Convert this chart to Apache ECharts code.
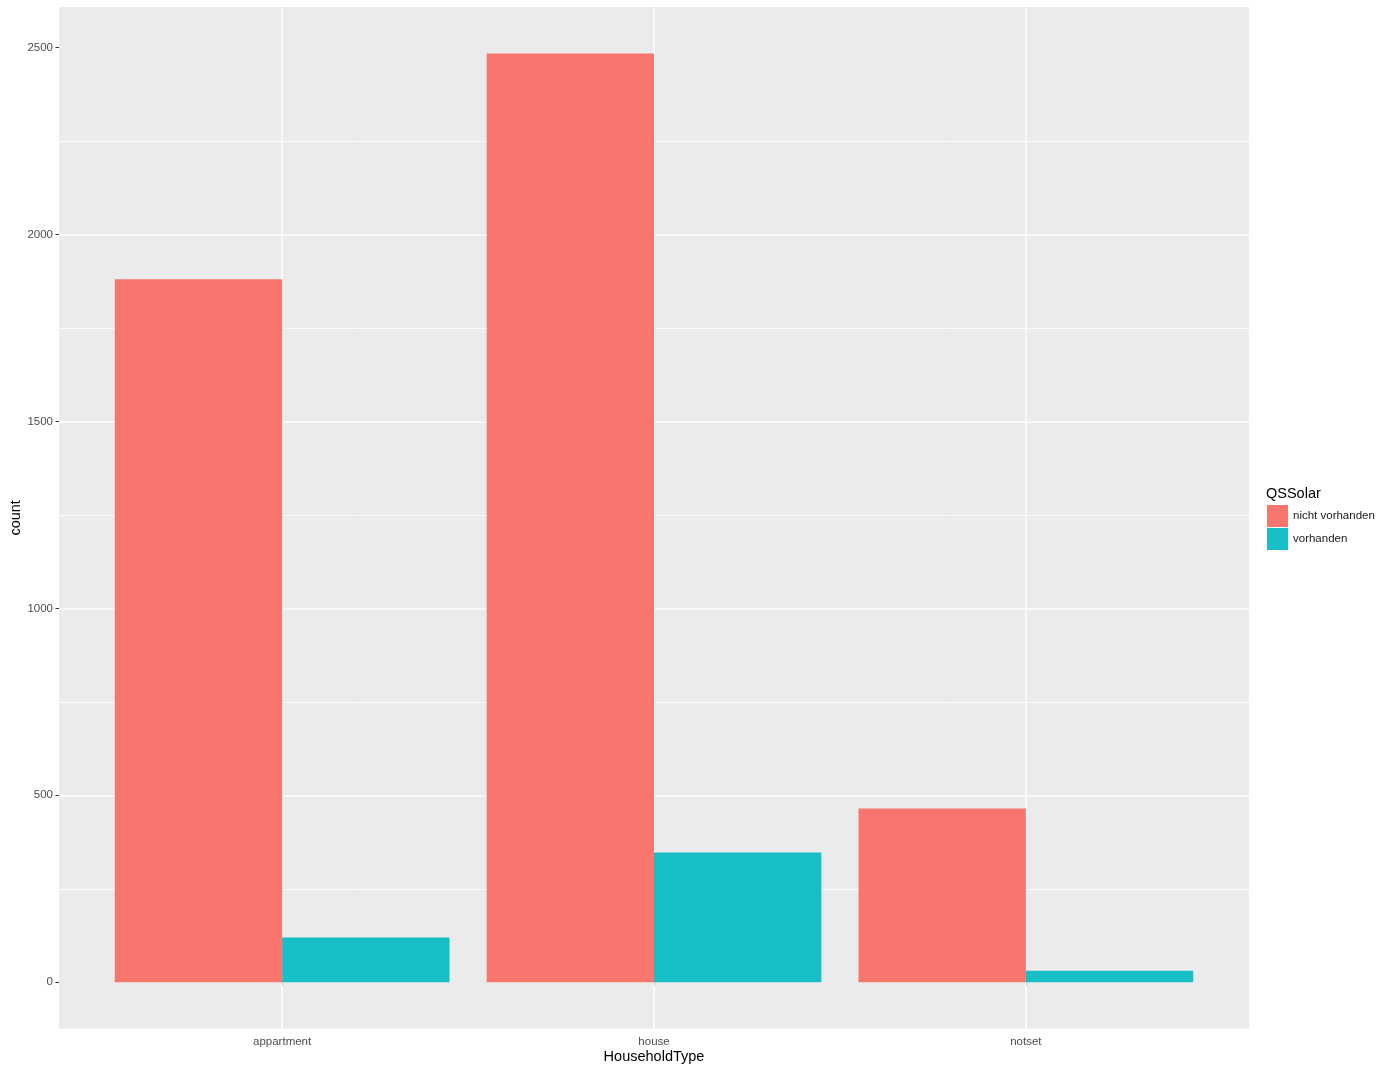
<!DOCTYPE html>
<html>
<head>
<meta charset="utf-8">
<script src="https://cdn.jsdelivr.net/npm/echarts@6/dist/echarts.min.js"></script>
<style>
html,body{margin:0;padding:0;background:#fff;}
#chart{width:1400px;height:1071px;}
</style>
</head>
<body>
<div id="chart"></div>
<script>
// ---- data ----
const categories = ['appartment', 'house', 'notset'];
const seriesNames = ['nicht vorhanden', 'vorhanden'];
const nichtVorhanden = [1880, 2484, 465];
const vorhanden = [120, 347, 31];
const yTicks = [0, 500, 1000, 1500, 2000, 2500];
const xPositions = [1, 2, 3];
const colors = ['#F8766D', '#17BEC5'];

// ggplot-like expansion of the scales
const allVals = nichtVorhanden.concat(vorhanden);
const dMax = Math.max.apply(null, allVals);
const expand = 0.05 * dMax;
const yMin = -expand, yMax = dMax + expand;
const xMin = 1 - 0.6, xMax = categories.length + 0.6;

const font = '"Liberation Sans", Arial, Helvetica, sans-serif';
const chart = echarts.init(document.getElementById('chart'), null, {renderer: 'canvas'});

const toPairs = arr => arr.map((v, i) => [xPositions[i], v]);

chart.setOption({
  animation: false,
  backgroundColor: '#ffffff',
  title: {
    text: 'QSSolar', left: 1266, top: 486, padding: 0,
    textStyle: {fontFamily: font, fontSize: 14.5, fontWeight: 'normal', color: '#000'}
  },
  legend: {
    orient: 'vertical', left: 1267, top: 505, padding: 0,
    itemWidth: 21, itemHeight: 22, itemGap: 1, icon: 'rect',
    data: seriesNames,
    textStyle: {fontFamily: font, fontSize: 11.5, color: '#1a1a1a'},
    selectedMode: false
  },
  grid: {left: 59, top: 7, right: 151, bottom: 42.3, show: true,
         backgroundColor: '#EBEBEB', borderWidth: 0, containLabel: false, outerBoundsMode: 'none'},
  xAxis: {
    type: 'value', min: xMin, max: xMax, splitNumber: 3, minInterval: 1, maxInterval: 1,
    name: 'HouseholdType', nameLocation: 'middle', nameGap: 21, nameMoveOverlap: false,
    nameTextStyle: {fontFamily: font, fontSize: 14.5, color: '#000'},
    axisLine: {show: false},
    axisTick: {show: true, length: 3.5, customValues: xPositions, lineStyle: {color: '#333333', width: 1}},
    axisLabel: {customValues: xPositions, margin: 7, fontFamily: font, fontSize: 11.5, color: '#4D4D4D',
      formatter: v => categories[Math.round(v) - 1] || ''},
    splitLine: {show: false}
  },
  yAxis: [{
    type: 'value', min: yMin, max: yMax, minInterval: 500, maxInterval: 500,
    name: 'count', nameLocation: 'middle', nameGap: 36, nameMoveOverlap: false,
    nameTextStyle: {fontFamily: font, fontSize: 14.5, color: '#000'},
    axisLine: {show: false},
    axisTick: {show: true, length: 3.5, customValues: yTicks, lineStyle: {color: '#333333', width: 1}},
    axisLabel: {customValues: yTicks, margin: 6, fontFamily: font, fontSize: 11.5, color: '#4D4D4D',
      formatter: v => String(v)},
    splitLine: {show: true, showMinLine: false, showMaxLine: false, lineStyle: {color: '#ffffff', width: 1.5}}
  }, {
    // offset helper axis giving the minor grid lines half-way between the major ones
    type: 'value', min: yMin - 250, max: yMax - 250, minInterval: 500, maxInterval: 500,
    position: 'left',
    axisLine: {show: false}, axisTick: {show: false}, axisLabel: {show: false},
    splitLine: {show: true, showMinLine: false, showMaxLine: false, lineStyle: {color: '#ffffff', width: 0.8}}
  }],
  series: [{
    // vertical major grid lines at the category positions (behind the bars)
    name: 'grid', type: 'line', data: [], z: 1, silent: true,
    markLine: {
      z: 1, silent: true, symbol: 'none', label: {show: false}, animation: false,
      lineStyle: {color: '#ffffff', width: 1.5, type: 'solid'},
      emphasis: {disabled: true},
      data: xPositions.map(x => ({xAxis: x}))
    }
  }, {
    name: seriesNames[0], type: 'bar', data: toPairs(nichtVorhanden),
    barGap: '0%', barCategoryGap: '10%', z: 3,
    itemStyle: {color: colors[0], borderWidth: 0}
  }, {
    name: seriesNames[1], type: 'bar', data: toPairs(vorhanden),
    barGap: '0%', barCategoryGap: '10%', z: 3,
    itemStyle: {color: colors[1], borderWidth: 0}
  }]
});
</script>
</body>
</html>
